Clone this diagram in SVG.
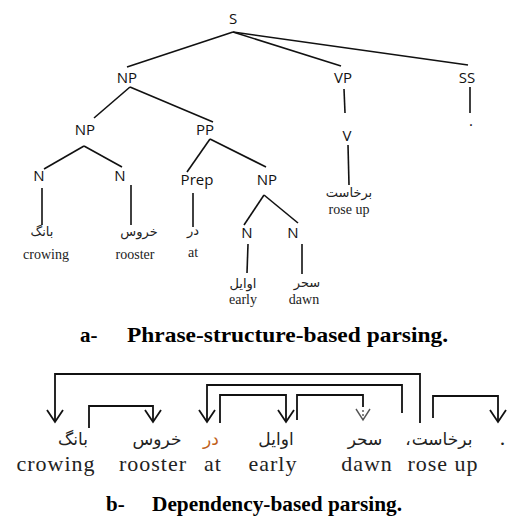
<svg xmlns="http://www.w3.org/2000/svg" width="507" height="516" viewBox="0 0 507 516">
<style>
.lbl{font-family:"Open Sans","DejaVu Sans",sans-serif;font-size:15px;fill:#111;text-anchor:middle}
.fa{font-family:"DejaVu Sans",sans-serif;font-size:13px;fill:#222;text-anchor:middle}
.en{font-family:"Liberation Serif","Times New Roman",serif;font-size:14px;fill:#222;text-anchor:middle}
.fa2{font-family:"DejaVu Sans",sans-serif;font-size:17px;fill:#222;text-anchor:middle}
.en2{font-family:"Liberation Serif","Times New Roman",serif;font-size:22px;letter-spacing:1px;fill:#222;text-anchor:middle}
.cap{font-family:"Liberation Serif","Times New Roman",serif;font-size:21px;font-weight:bold;fill:#000}
.e{stroke:#111;stroke-width:1.6;fill:none}
.d{stroke:#111;stroke-width:1.8;fill:none}
</style>
<defs>
<marker id="arr" markerUnits="userSpaceOnUse" markerWidth="30" markerHeight="30" refX="0" refY="0" orient="auto" overflow="visible">
<path d="M-12,-8 L0,0 L-12,8" stroke="#111" stroke-width="1.8" fill="none"/>
</marker>
<marker id="arr2" markerUnits="userSpaceOnUse" markerWidth="30" markerHeight="30" refX="0" refY="0" orient="auto" overflow="visible">
<path d="M-11,-7 L0,0 L-11,7" stroke="#555" stroke-width="1.4" fill="none"/>
</marker>
</defs>
<rect width="507" height="516" fill="#fff"/>

<g id="connectors">
<g id="tree-edges" class="e">
<line x1="233" y1="32" x2="127" y2="67"/>
<line x1="233" y1="32" x2="341" y2="66"/>
<line x1="233" y1="32" x2="468" y2="65"/>
<line x1="130" y1="87" x2="94" y2="118"/>
<line x1="130" y1="87" x2="213" y2="122"/>
<line x1="344" y1="89" x2="345" y2="113"/>
<line x1="470" y1="87" x2="470" y2="113"/>
<line x1="84" y1="146" x2="44" y2="169"/>
<line x1="84" y1="146" x2="122" y2="167"/>
<line x1="210" y1="139" x2="187" y2="172"/>
<line x1="210" y1="139" x2="266" y2="167"/>
<line x1="348" y1="145" x2="349" y2="185"/>
<line x1="42" y1="188" x2="42" y2="225"/>
<line x1="131" y1="185" x2="131" y2="225"/>
<line x1="193" y1="193" x2="193" y2="227"/>
<line x1="264" y1="195" x2="244" y2="225"/>
<line x1="264" y1="195" x2="298" y2="223"/>
<line x1="248" y1="244" x2="247" y2="273"/>
<line x1="302" y1="244" x2="302" y2="274"/>
</g>
<g id="dep-arcs" class="d">
<path d="M420,423 V374 H55 V422" marker-end="url(#arr)"/>
<path d="M89,428 V406 H153 V422" marker-end="url(#arr)"/>
<path d="M402,413 V385 H207 V422" marker-end="url(#arr)"/>
<path d="M220,423 V395 H286 V422" marker-end="url(#arr)"/>
<path d="M297,420 V395 H363 V407" />
<path d="M363,410 V420" stroke="#555" stroke-width="1.4" stroke-dasharray="2,2" marker-end="url(#arr2)"/>
<path d="M433,418 V396 H498 V422" marker-end="url(#arr)"/>
</g>
</g>

<g id="n-S"><text class="lbl" x="233" y="24">S</text></g>
<g id="n-NP"><text class="lbl" x="127" y="83">NP</text></g>
<g id="n-VP"><text class="lbl" x="343" y="83">VP</text></g>
<g id="n-SS"><text class="lbl" x="467" y="83">SS</text></g>
<g id="n-dot"><text class="lbl" x="471" y="126">.</text></g>
<g id="n-NP2"><text class="lbl" x="85" y="135">NP</text></g>
<g id="n-PP"><text class="lbl" x="205" y="135">PP</text></g>
<g id="n-V"><text class="lbl" x="347" y="141">V</text></g>
<g id="n-N1"><text class="lbl" x="39" y="181">N</text></g>
<g id="n-N2"><text class="lbl" x="120" y="181">N</text></g>
<g id="n-Prep"><text class="lbl" x="197" y="185">Prep</text></g>
<g id="n-NP3"><text class="lbl" x="267" y="185">NP</text></g>
<g id="n-N3"><text class="lbl" x="247" y="238">N</text></g>
<g id="n-N4"><text class="lbl" x="293" y="238">N</text></g>

<g id="w-bang"><text class="fa" x="42" y="236">بانگ</text><text class="en" x="46" y="259">crowing</text></g>
<g id="w-khoroos"><text class="fa" x="139" y="236">خروس</text><text class="en" x="135" y="259">rooster</text></g>
<g id="w-dar"><text class="fa" x="193" y="235">در</text><text class="en" x="193" y="257">at</text></g>
<g id="w-avayel"><text class="fa" x="243" y="288">اوایل</text><text class="en" x="243" y="304">early</text></g>
<g id="w-sahar"><text class="fa" x="307" y="287">سحر</text><text class="en" x="304" y="304">dawn</text></g>
<g id="w-barkhast"><text class="fa" x="349" y="197">برخاست</text><text class="en" x="349" y="214">rose up</text></g>

<g id="caption-a">
<text class="cap" x="80" y="342">a-</text>
<text class="cap" x="127" y="342" textLength="321" lengthAdjust="spacingAndGlyphs">Phrase-structure-based parsing.</text>
</g>

<g id="d-bang"><text class="fa2" x="73" y="445">بانگ</text><text class="en2" x="56" y="471">crowing</text></g>
<g id="d-khoroos"><text class="fa2" x="157" y="445">خروس</text><text class="en2" x="153" y="471">rooster</text></g>
<g id="d-dar"><text class="fa2" x="211" y="445" style="fill:#c0601a">در</text><text class="en2" x="213" y="471">at</text></g>
<g id="d-avayel"><text class="fa2" x="276" y="445">اوایل</text><text class="en2" x="273" y="471">early</text></g>
<g id="d-sahar"><text class="fa2" x="365" y="445">سحر</text><text class="en2" x="367" y="471">dawn</text></g>
<g id="d-barkhast"><text class="fa2" x="408" y="445">،</text><text class="fa2" x="442" y="445">برخاست</text><text class="en2" x="443" y="471">rose up</text></g>
<g id="d-dot"><text class="en2" x="503" y="445">.</text></g>

<g id="caption-b">
<text class="cap" x="106" y="511">b-</text>
<text class="cap" x="152" y="511" textLength="250" lengthAdjust="spacingAndGlyphs">Dependency-based parsing.</text>
</g>
</svg>
